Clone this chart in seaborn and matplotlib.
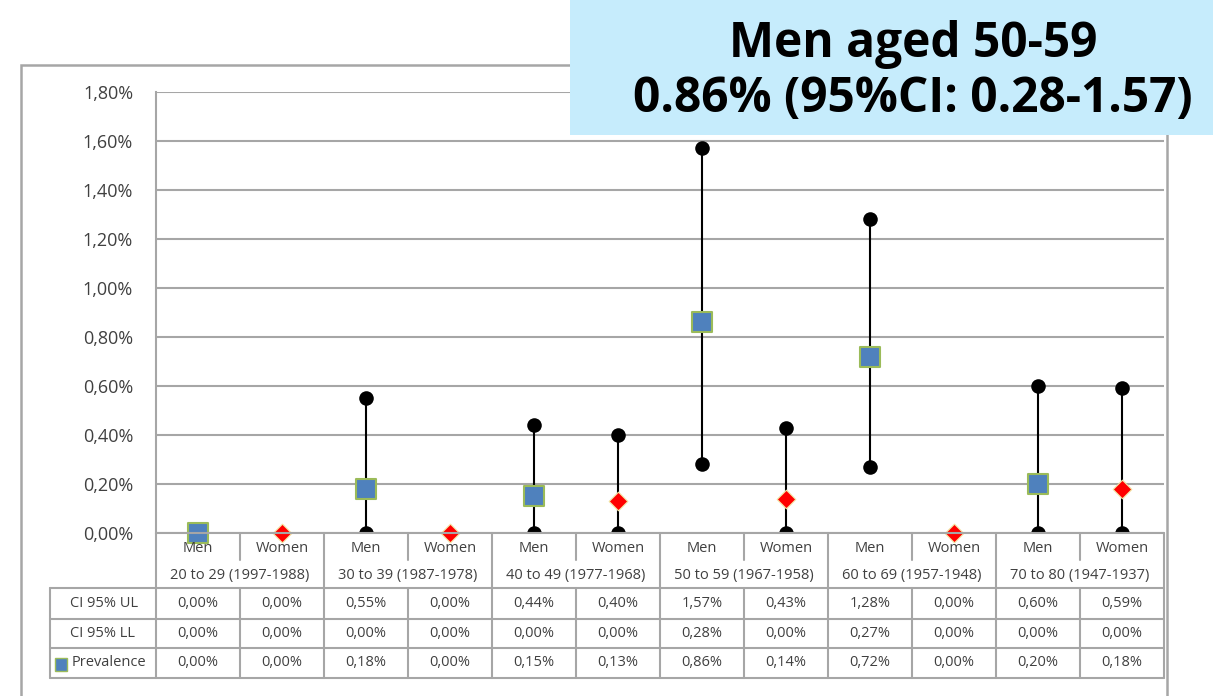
#Prevalence by sex and age group with 95% CI, plus the data table below the chart.
import matplotlib
matplotlib.use('Agg')
import matplotlib.pyplot as plt
from matplotlib.lines import Line2D
from matplotlib.patches import Rectangle
import numpy as np
import pandas as pd
import seaborn as sns

sex = ['Men', 'Women'] * 6
age_groups = ['20 to 29 (1997-1988)', '30 to 39 (1987-1978)', '40 to 49 (1977-1968)',
              '50 to 59 (1967-1958)', '60 to 69 (1957-1948)', '70 to 80 (1947-1937)']
ci_ul = [0.00, 0.00, 0.55, 0.00, 0.44, 0.40, 1.57, 0.43, 1.28, 0.00, 0.60, 0.59]
ci_ll = [0.00, 0.00, 0.00, 0.00, 0.00, 0.00, 0.28, 0.00, 0.27, 0.00, 0.00, 0.00]
prevalence = [0.00, 0.00, 0.18, 0.00, 0.15, 0.13, 0.86, 0.14, 0.72, 0.00, 0.20, 0.18]
row_names = ['CI 95% UL', 'CI 95% LL', 'Prevalence']
y_ticks = [0.0, 0.2, 0.4, 0.6, 0.8, 1.0, 1.2, 1.4, 1.6, 1.8]
title_lines = ['Men aged 50-59', '0.86% (95%CI: 0.28-1.57)']

df = pd.DataFrame({'pos': np.arange(len(sex)), 'sex': sex, 'ul': ci_ul,
                   'll': ci_ll, 'prev': prevalence})

W, H = 1213, 696
GRID = '#A6A6A6'
TXT = '#404040'
FONT = 'Open Sans'
TAB_FS = 10.5

sns.set_theme(style='white')
plt.rcParams['font.family'] = [FONT, 'DejaVu Sans']

fig = plt.figure(figsize=(W / 100, H / 100), dpi=100)

# plot area in pixels
x0, x1, y_top, y_zero = 156, 1164, 92, 533
ax = fig.add_axes([x0 / W, 1 - y_zero / H, (x1 - x0) / W, (y_zero - y_top) / H])


def fx(x):
    return x / W


def fy(y):
    return 1 - y / H


def fline(xs, ys, color=GRID, lw=1.5, z=1):
    fig.add_artist(Line2D([fx(v) for v in xs], [fy(v) for v in ys], color=color,
                          lw=lw, transform=fig.transFigure, zorder=z))


# outer chart frame
fig.add_artist(Rectangle((fx(21), fy(710)), fx(1167) - fx(21), fy(65) - fy(710),
                         fill=False, edgecolor=GRID, lw=1.8, transform=fig.transFigure))

# CI whiskers and end points
ax.vlines(df['pos'], df['ll'], df['ul'], color='black', lw=1.5, zorder=3)
sns.scatterplot(data=df[df['ul'] > 0], x='pos', y='ul', color='black', s=110,
                edgecolor='black', linewidth=0, ax=ax, zorder=4)
sns.scatterplot(data=df[df['ul'] > 0], x='pos', y='ll', color='black', s=110,
                edgecolor='black', linewidth=0, ax=ax, zorder=4)

# prevalence markers
men = df[df['sex'] == 'Men']
women = df[df['sex'] == 'Women']
sns.scatterplot(data=men, x='pos', y='prev', marker='s', color='#4F81BD', s=190,
                edgecolor='#9BBB59', linewidth=1.5, ax=ax, zorder=5, clip_on=False)
sns.scatterplot(data=women, x='pos', y='prev', marker='D', color='#FF0000', s=90,
                edgecolor='#F2E3A0', linewidth=0.8, ax=ax, zorder=5, clip_on=False)

ax.set_xlim(-0.5, len(sex) - 0.5)
ax.set_ylim(0, 1.8)
ax.set_yticks(y_ticks)
ax.set_yticklabels([f'{v:.2f}%'.replace('.', ',') for v in y_ticks], fontsize=13, color=TXT)
ax.set_xticks([])
ax.set_xlabel('')
ax.set_ylabel('')
ax.tick_params(axis='y', length=0, pad=16.5)
ax.grid(axis='y', color=GRID, lw=1.5)
ax.set_axisbelow(True)
for side in ['top', 'right', 'bottom']:
    ax.spines[side].set_visible(False)
ax.spines['left'].set_color(GRID)
ax.spines['left'].set_linewidth(1.5)

# category labels under the axis
col_w = (x1 - x0) / len(sex)
fline([x0, x1], [y_zero, y_zero])
for i, s in enumerate(sex):
    cx = x0 + (i + 0.5) * col_w
    fig.text(fx(cx), fy(548), s, ha='center', va='center', fontsize=TAB_FS, color=TXT)
for g, name in enumerate(age_groups):
    cx = x0 + (2 * g + 1) * col_w
    fig.text(fx(cx), fy(576), name, ha='center', va='center', fontsize=TAB_FS, color=TXT)
for i in range(len(sex) + 1):
    bx = x0 + i * col_w
    if i % 2 == 1:
        fline([bx, bx], [y_zero, 560])
    else:
        fline([bx, bx], [y_zero, 588])

# data table
row_y = [588, 619, 648, 678]
tab_left = 50
for y in row_y:
    fline([tab_left, x1], [y, y])
fline([tab_left, tab_left], [row_y[0], row_y[-1]])
for i in range(len(sex) + 1):
    bx = x0 + i * col_w
    fline([bx, bx], [row_y[0], row_y[-1]])
table_vals = [ci_ul, ci_ll, prevalence]
for r, (name, vals) in enumerate(zip(row_names, table_vals)):
    cy = (row_y[r] + row_y[r + 1]) / 2
    lx = 70 if r < 2 else 72
    fig.text(fx(lx), fy(cy), name, ha='left', va='center', fontsize=TAB_FS, color=TXT)
    for i, v in enumerate(vals):
        cx = x0 + (i + 0.5) * col_w
        fig.text(fx(cx), fy(cy), f'{v:.2f}%'.replace('.', ','), ha='center',
                 va='center', fontsize=TAB_FS, color=TXT)
# legend key for the prevalence row
fig.add_artist(Rectangle((fx(55), fy(671)), fx(12), fy(0) - fy(13), facecolor='#4F81BD',
                         edgecolor='#9BBB59', lw=1, transform=fig.transFigure))

# highlight box
fig.add_artist(Rectangle((fx(570), fy(135)), 1 - fx(570), fy(0) - fy(135),
                         facecolor='#C6ECFC', edgecolor='none', transform=fig.transFigure,
                         zorder=6))
fig.text(fx(913), fy(57), title_lines[0], ha='center', va='baseline', fontsize=34.5,
         fontweight='bold', color='black', zorder=7)
fig.text(fx(913), fy(112), title_lines[1], ha='center', va='baseline', fontsize=34.5,
         fontweight='bold', color='black', zorder=7)

plt.savefig('out.png', dpi=100)
